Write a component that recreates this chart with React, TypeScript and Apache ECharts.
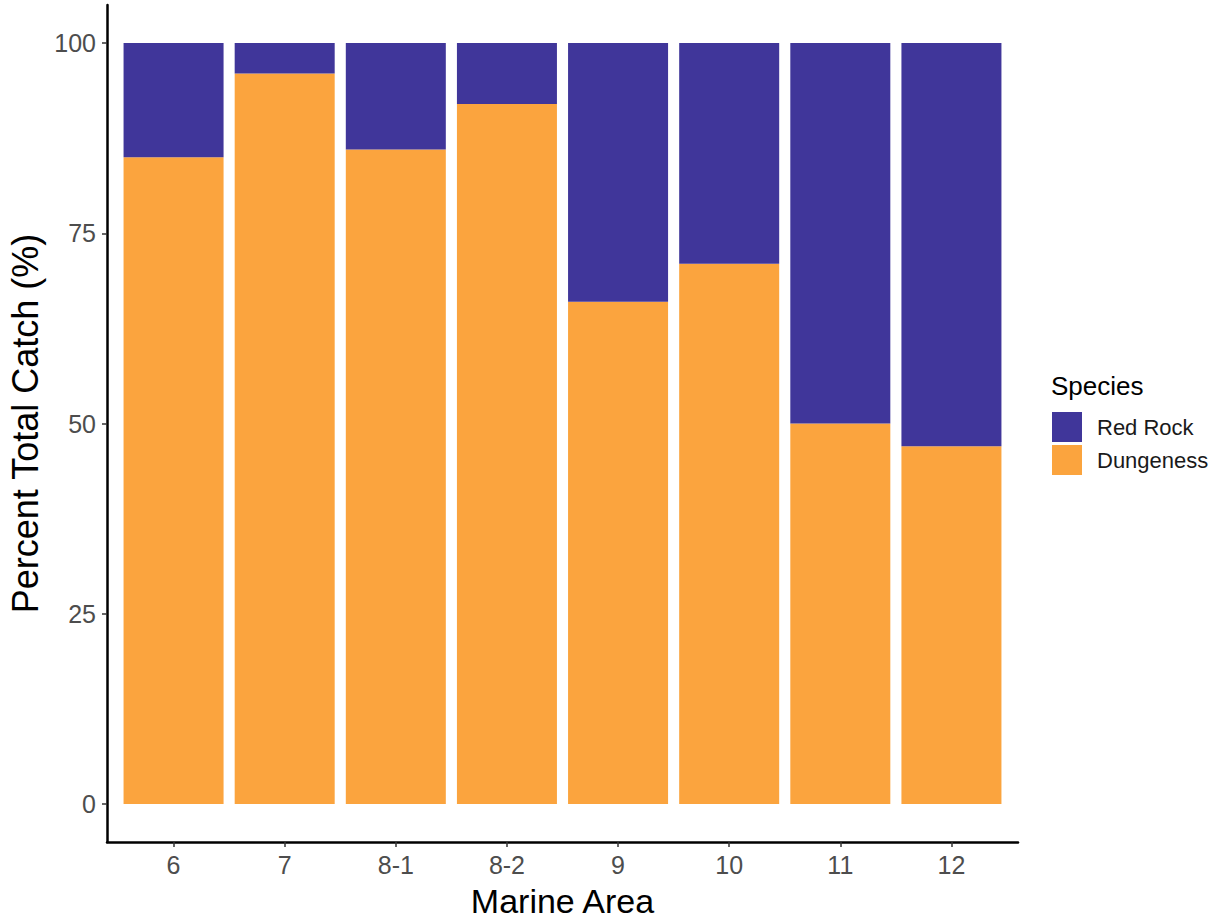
import React, { useEffect, useRef } from "react";
import * as echarts from "echarts";

const categories = ["6", "7", "8-1", "8-2", "9", "10", "11", "12"];
const dungeness = [85, 96, 86, 92, 66, 71, 50, 47];
const redRock = [15, 4, 14, 8, 34, 29, 50, 53];
const yTicks = [0, 25, 50, 75, 100];

const FONT = "'Liberation Sans', Arial, sans-serif";
const PURPLE = "#40369A";
const ORANGE = "#FBA43E";

export default function App() {
  const ref = useRef<HTMLDivElement>(null);
  useEffect(() => {
    document.body.style.margin = "0";
    const chart = echarts.init(ref.current!, null, { renderer: "svg" });
    chart.setOption({
      animation: false,
      textStyle: { fontFamily: FONT },
      grid: [
        { left: 118, right: 216, top: 5, bottom: 81, containLabel: false, outerBoundsMode: "none" },
        { left: 107, right: 205, top: 5, bottom: 81, containLabel: false, outerBoundsMode: "none" },
      ],
      xAxis: [
        {
          type: "category",
          gridIndex: 0,
          data: categories,
          axisLine: { show: false, onZero: false },
          axisTick: { show: true, alignWithLabel: true, length: 5, lineStyle: { color: "#333", width: 1.5 } },
          axisLabel: { color: "#4D4D4D", fontSize: 25, margin: 10, fontFamily: FONT },
          name: "Marine Area",
          nameLocation: "middle",
          nameGap: 42,
          nameTextStyle: { color: "#000", fontSize: 34, fontFamily: FONT, verticalAlign: "top" },
        },
        {
          type: "value",
          gridIndex: 1,
          min: 0,
          max: 1,
          axisLine: { show: true, onZero: false, lineStyle: { color: "#000", width: 2.5 } },
          axisTick: { show: false },
          axisLabel: { show: false },
          splitLine: { show: false },
        },
      ],
      yAxis: [
        {
          type: "value",
          gridIndex: 0,
          min: -5,
          max: 105,
          offset: 11,
          axisLine: { show: true, onZero: false, lineStyle: { color: "#000", width: 2.5 } },
          axisTick: { show: true, length: 5, customValues: yTicks, lineStyle: { color: "#333", width: 1.5 } },
          axisLabel: { color: "#4D4D4D", fontSize: 25, margin: 11, customValues: yTicks, fontFamily: FONT },
          splitLine: { show: false },
          name: "Percent Total Catch (%)",
          nameLocation: "middle",
          nameGap: 60,
          nameRotate: 90,
          nameTextStyle: { color: "#000", fontSize: 36, fontFamily: FONT },
        },
        {
          type: "value",
          gridIndex: 1,
          show: false,
          min: -5,
          max: 105,
        },
      ],
      legend: {
        orient: "vertical",
        left: 1047,
        top: 407,
        itemWidth: 30,
        itemHeight: 30,
        itemGap: 3,
        icon: "rect",
        data: ["Red Rock", "Dungeness"],
        textStyle: { color: "#1a1a1a", fontSize: 22, fontFamily: FONT, padding: [0, 0, 0, 10] },
      },
      graphic: [
        {
          type: "text",
          left: 1051,
          top: 373,
          style: { text: "Species", fill: "#000", fontSize: 26, fontFamily: FONT },
        },
      ],
      series: [
        {
          name: "Dungeness",
          type: "bar",
          stack: "total",
          xAxisIndex: 0,
          yAxisIndex: 0,
          barWidth: "90%",
          data: dungeness,
          itemStyle: { color: ORANGE },
        },
        {
          name: "Red Rock",
          type: "bar",
          stack: "total",
          xAxisIndex: 0,
          yAxisIndex: 0,
          barWidth: "90%",
          data: redRock,
          itemStyle: { color: PURPLE },
        },
      ],
    });
    return () => chart.dispose();
  }, []);
  return <div ref={ref} style={{ width: 1223, height: 923 }} />;
}
